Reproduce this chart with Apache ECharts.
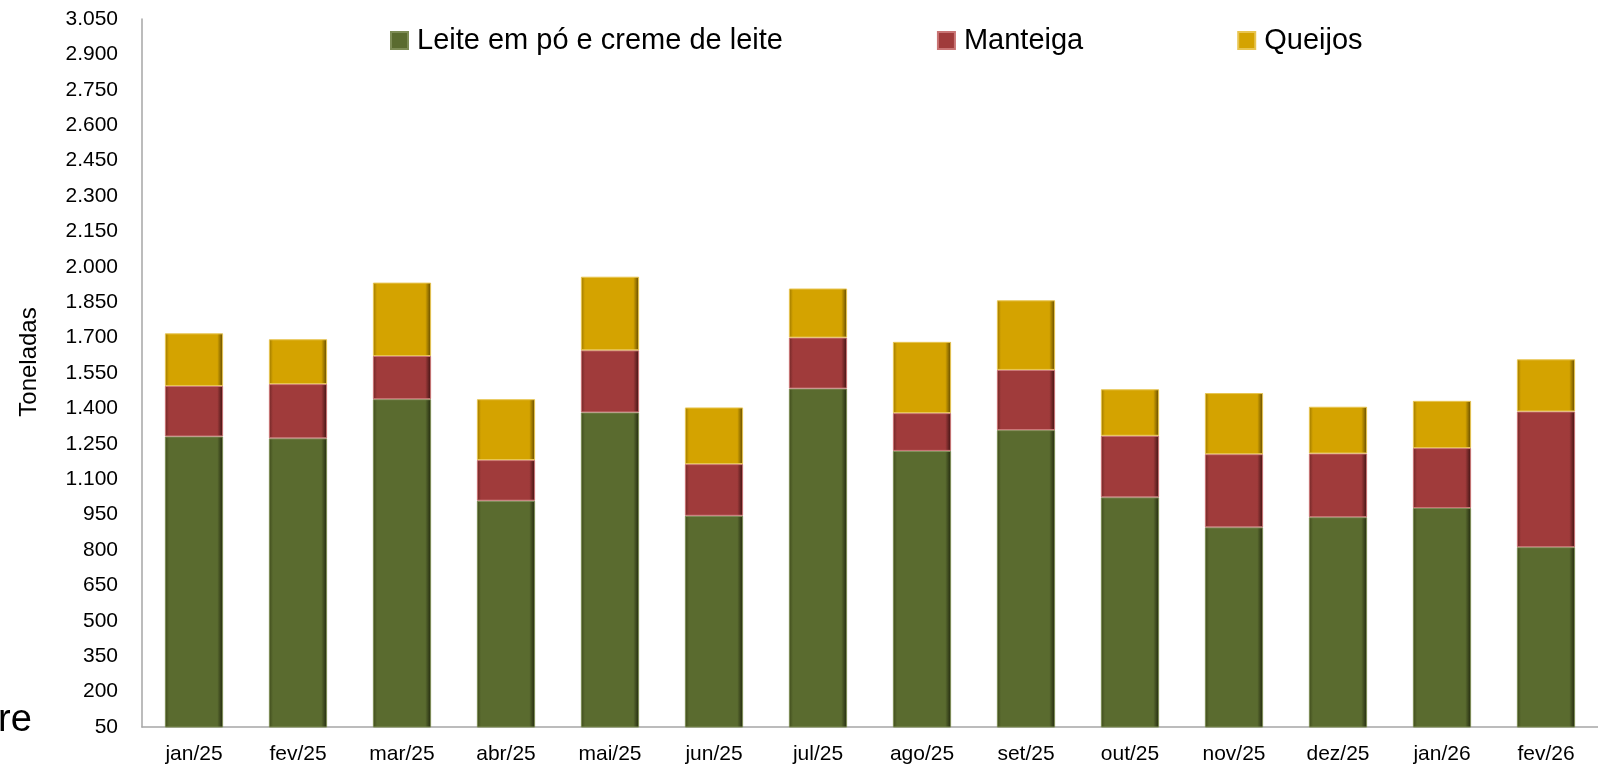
<!DOCTYPE html>
<html>
<head>
<meta charset="utf-8">
<script src="https://cdn.jsdelivr.net/npm/echarts@6/dist/echarts.min.js"></script>
<style>
  html, body { margin: 0; padding: 0; background: #fff; }
  #chart { width: 1598px; height: 765px; }
</style>
</head>
<body>
<div id="chart"></div>
<script>
const meses = ["jan/25", "fev/25", "mar/25", "abr/25", "mai/25", "jun/25", "jul/25",
  "ago/25", "set/25", "out/25", "nov/25", "dez/25", "jan/26", "fev/26"];

const leite = [1281, 1273, 1439, 1009, 1383, 945, 1484, 1220, 1308, 1023, 896, 939, 978, 812];
const manteiga = [214, 230, 183, 172, 263, 219, 216, 160, 255, 261, 310, 270, 254, 575];
const queijos = [223, 190, 311, 258, 312, 240, 208, 302, 295, 197, 259, 198, 200, 221];

const nomes = ["Leite em pó e creme de leite", "Manteiga", "Queijos"];

const FONT = "Liberation Sans";

// degradê horizontal para imitar o chanfro das barras do Excel
function bevel(edge, main, dark) {
  return new echarts.graphic.LinearGradient(0, 0, 1, 0, [
    { offset: 0, color: edge },
    { offset: 0.07, color: main },
    { offset: 0.9, color: main },
    { offset: 1, color: dark }
  ]);
}

const cores = [
  { fill: bevel("#3E4A1B", "#5A6B2F", "#1F260D"), border: "#7D8C55" },
  { fill: bevel("#6E2626", "#A03B3B", "#3A1010"), border: "#C97474" },
  { fill: bevel("#9A7600", "#D4A300", "#5C4500"), border: "#E8C550" }
];

function fmt(v) {
  return String(v).replace(/\B(?=(\d{3})+(?!\d))/g, ".");
}

function serie(nome, dados, i) {
  return {
    name: nome,
    type: "bar",
    stack: "total",
    barWidth: "56%",
    data: dados,
    itemStyle: {
      color: cores[i].fill,
      borderColor: cores[i].border,
      borderWidth: 1
    }
  };
}

const chart = echarts.init(document.getElementById("chart"));

chart.setOption({
  animation: false,
  backgroundColor: "#fff",
  textStyle: { fontFamily: FONT },
  legend: {
    left: 390,
    top: 26,
    padding: 0,
    itemWidth: 17,
    itemHeight: 17,
    itemGap: 154,
    icon: "rect",
    data: nomes,
    textStyle: { fontFamily: FONT, fontSize: 29, color: "#000", padding: [0, 0, 0, 4] }
  },
  grid: { left: 142, top: 19, width: 1471, height: 708 },
  xAxis: {
    type: "category",
    data: meses,
    axisLine: { lineStyle: { color: "#A6A6A6", width: 1.5 } },
    axisTick: { show: false },
    axisLabel: { fontFamily: FONT, fontSize: 21, color: "#000", margin: 17 }
  },
  yAxis: {
    type: "value",
    min: 50,
    max: 3050,
    interval: 150,
    axisLine: { show: true, lineStyle: { color: "#A6A6A6", width: 1.5 } },
    axisTick: { show: false },
    splitLine: { show: false },
    axisLabel: { fontFamily: FONT, fontSize: 21, color: "#000", margin: 24, formatter: fmt }
  },
  graphic: [{
    type: "text",
    x: 29,
    y: 362,
    rotation: Math.PI / 2,
    style: {
      text: "Toneladas", fontFamily: FONT, fontSize: 24, fill: "#000",
      align: "center", verticalAlign: "middle"
    }
  }, {
    type: "text",
    left: -2,
    top: 702,
    style: { text: "re", fontFamily: FONT, fontSize: 38, fill: "#000" }
  }],
  series: [
    serie(nomes[0], leite, 0),
    serie(nomes[1], manteiga, 1),
    serie(nomes[2], queijos, 2)
  ]
});
</script>
</body>
</html>
